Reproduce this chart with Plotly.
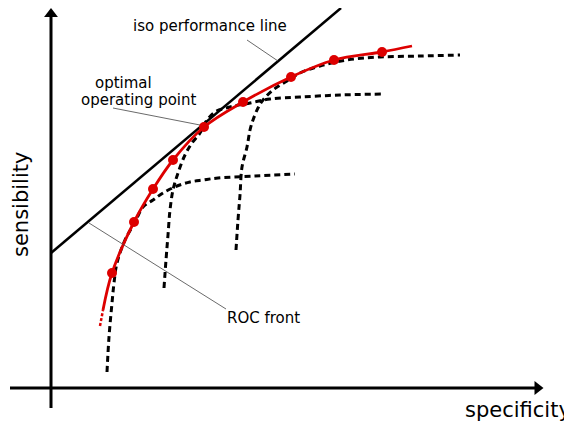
import plotly.graph_objects as go

# coordinate system: origin at the axes intersection
roc_x = [61, 83, 102, 122, 153, 192, 240, 283, 331]
roc_y = [115, 166, 199, 228, 261, 286, 311, 328, 336]
roc_start = (52, 78)
roc_tail = (49, 62)
roc_end = (361, 342)

curve_a_x = [56, 58, 61, 63, 66, 74, 84, 92, 102, 112, 126, 139, 152, 167, 204, 244]
curve_a_y = [16, 51, 85, 105, 125, 148, 166, 181, 188, 195, 202, 206, 208, 210, 212, 214]

curve_b_x = [113, 115, 117, 119, 122, 127, 134, 141, 149, 154, 164, 179, 199, 219, 249, 289, 331]
curve_b_y = [100, 128, 153, 178, 198, 215, 233, 245, 255, 265, 276, 281, 285, 289, 291, 293, 294]

curve_c_x = [185, 187, 189, 191, 196, 199, 202, 207, 212, 222, 236, 249, 269, 296, 329, 369, 409]
curve_c_y = [138, 168, 193, 221, 241, 258, 268, 280, 288, 298, 307, 315, 322, 328, 331, 332, 333]

iso_x = [0, 290]
iso_y = [135, 380]

FONT = "DejaVu Sans"

fig = go.Figure()

# axes
fig.add_trace(go.Scatter(x=[0, 0], y=[-20, 372], mode="lines",
                         line=dict(color="black", width=3), hoverinfo="skip"))
fig.add_trace(go.Scatter(x=[-41, 485], y=[0, 0], mode="lines",
                         line=dict(color="black", width=3), hoverinfo="skip"))
fig.add_trace(go.Scatter(x=[0], y=[374], mode="markers",
                         marker=dict(symbol="triangle-up", size=12, color="black"), hoverinfo="skip"))
fig.add_trace(go.Scatter(x=[486.5], y=[0], mode="markers",
                         marker=dict(symbol="triangle-right", size=12, color="black"), hoverinfo="skip"))

# dashed curves
for cx, cy in [(curve_a_x, curve_a_y), (curve_b_x, curve_b_y), (curve_c_x, curve_c_y)]:
    fig.add_trace(go.Scatter(x=cx, y=cy, mode="lines", line_shape="spline",
                             line=dict(color="black", width=3, dash="6px,4px"), hoverinfo="skip"))

# iso performance line
fig.add_trace(go.Scatter(x=iso_x, y=iso_y, mode="lines",
                         line=dict(color="black", width=2.5), hoverinfo="skip"))

# ROC front
fig.add_trace(go.Scatter(x=[roc_tail[0], roc_start[0]], y=[roc_tail[1], roc_start[1]], mode="lines",
                         line=dict(color="#dd0000", width=2.5, dash="3px,2px"), hoverinfo="skip"))
fig.add_trace(go.Scatter(x=[roc_start[0]] + roc_x + [roc_end[0]],
                         y=[roc_start[1]] + roc_y + [roc_end[1]],
                         mode="lines", line_shape="spline",
                         line=dict(color="#dd0000", width=2.8), hoverinfo="skip"))
fig.add_trace(go.Scatter(x=roc_x, y=roc_y, mode="markers",
                         marker=dict(color="#dd0000", size=10), hoverinfo="skip"))

# leader lines
leaders = [((196, 227), (348, 327)), ((62, 149), (280, 263)), ((38, 175), (165, 79))]
for lx, ly in leaders:
    fig.add_trace(go.Scatter(x=list(lx), y=list(ly), mode="lines",
                             line=dict(color="#444444", width=0.8), hoverinfo="skip"))

annots = [
    dict(x=159, y=362, text="iso performance line", size=15),
    dict(x=72, y=305, text="optimal", size=15),
    dict(x=88, y=288, text="operating point", size=15),
    dict(x=212, y=70, text="ROC front", size=15),
    dict(x=467, y=-22, text="specificity", size=21),
]
for a in annots:
    fig.add_annotation(x=a["x"], y=a["y"], text=a["text"], showarrow=False,
                       font=dict(family=FONT, size=a["size"], color="black"),
                       xanchor="center", yanchor="middle")
fig.add_annotation(x=-30, y=183, text="sensibility", showarrow=False, textangle=-90,
                   font=dict(family=FONT, size=21, color="black"),
                   xanchor="center", yanchor="middle")

# the page draws the figure with an 8px offset, so ranges are shifted to compensate
fig.update_layout(
    width=572, height=424,
    margin=dict(l=0, r=0, t=0, b=0),
    paper_bgcolor="white", plot_bgcolor="white",
    showlegend=False,
    xaxis=dict(range=[-43, 529], visible=False, fixedrange=True),
    yaxis=dict(range=[-44, 380], visible=False, fixedrange=True),
)

fig.write_html("out.html")
